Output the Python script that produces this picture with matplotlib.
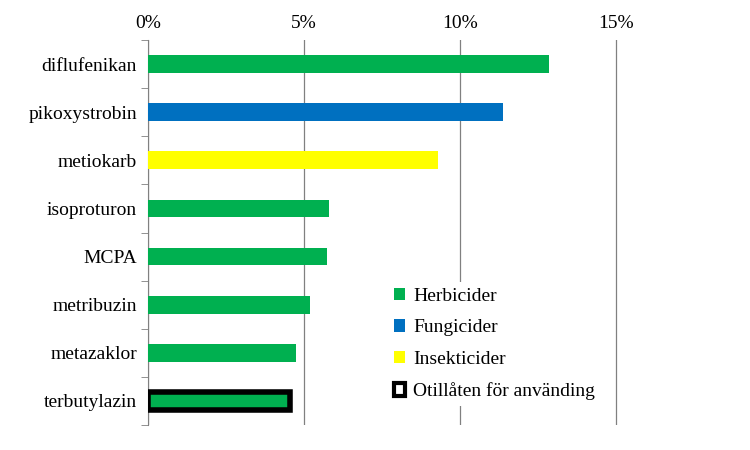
import matplotlib
matplotlib.use("Agg")
import matplotlib.pyplot as plt
from matplotlib.patches import Patch

categories = ["diflufenikan", "pikoxystrobin", "metiokarb", "isoproturon", "MCPA",
              "metribuzin", "metazaklor", "terbutylazin"]
values = [12.85, 11.38, 9.29, 5.80, 5.74, 5.19, 4.74, 4.55]
groups = ["Herbicider", "Fungicider", "Insekticider", "Herbicider", "Herbicider",
          "Herbicider", "Herbicider", "Herbicider"]
banned = [False, False, False, False, False, False, False, True]
xticks = [0, 5, 10, 15]
xticklabels = ["0%", "5%", "10%", "15%"]
colors = {"Herbicider": "#00B050", "Fungicider": "#0070C0", "Insekticider": "#FFFF00"}

plt.rcParams["font.family"] = "Liberation Serif"
fig = plt.figure(figsize=(7.5, 4.5), dpi=100)
ax = fig.add_axes([148/750, 25/450, 600/750, 385/450])
ys = list(range(len(categories)))
for y, v, g, b in zip(ys, values, groups, banned):
    ax.barh(y, v, height=0.37, color=colors[g],
            edgecolor="black" if b else "none", linewidth=4 if b else 0, zorder=3)
ax.set_ylim(len(categories) - 0.5, -0.5)
ax.set_xlim(0, 600/31.2)
ax.set_yticks(ys)
ax.set_yticklabels(categories, fontsize=14)
ax.set_yticks([i + 0.5 for i in range(-1, len(categories))], minor=True)
ax.tick_params(axis="y", which="major", length=0, pad=8)
ax.tick_params(axis="y", which="minor", length=5, color="#808080")
ax.xaxis.tick_top()
ax.set_xticks(xticks)
ax.set_xticklabels(xticklabels, fontsize=14)
ax.tick_params(axis="x", length=0, pad=6)
ax.grid(axis="x", color="#808080", linewidth=0.9, zorder=0)
for s in ["top", "right", "bottom"]:
    ax.spines[s].set_visible(False)
ax.spines["left"].set_color("#808080")

handles = [Patch(facecolor=colors["Herbicider"]), Patch(facecolor=colors["Fungicider"]),
           Patch(facecolor=colors["Insekticider"]),
           Patch(facecolor="white", edgecolor="black", linewidth=3)]
labels = ["Herbicider", "Fungicider", "Insekticider", "Otillåten för använding"]
leg = ax.legend(handles, labels, loc="upper left", bbox_to_anchor=(378/750, 178/450),
                bbox_transform=fig.transFigure, frameon=True, fontsize=14,
                handlelength=0.6, handleheight=0.6, labelspacing=0.75, handletextpad=0.4,
                facecolor="white", edgecolor="none", framealpha=1, fancybox=False,
                borderpad=0.3)
leg.set_zorder(5)
fig.savefig("out.png", dpi=100)
